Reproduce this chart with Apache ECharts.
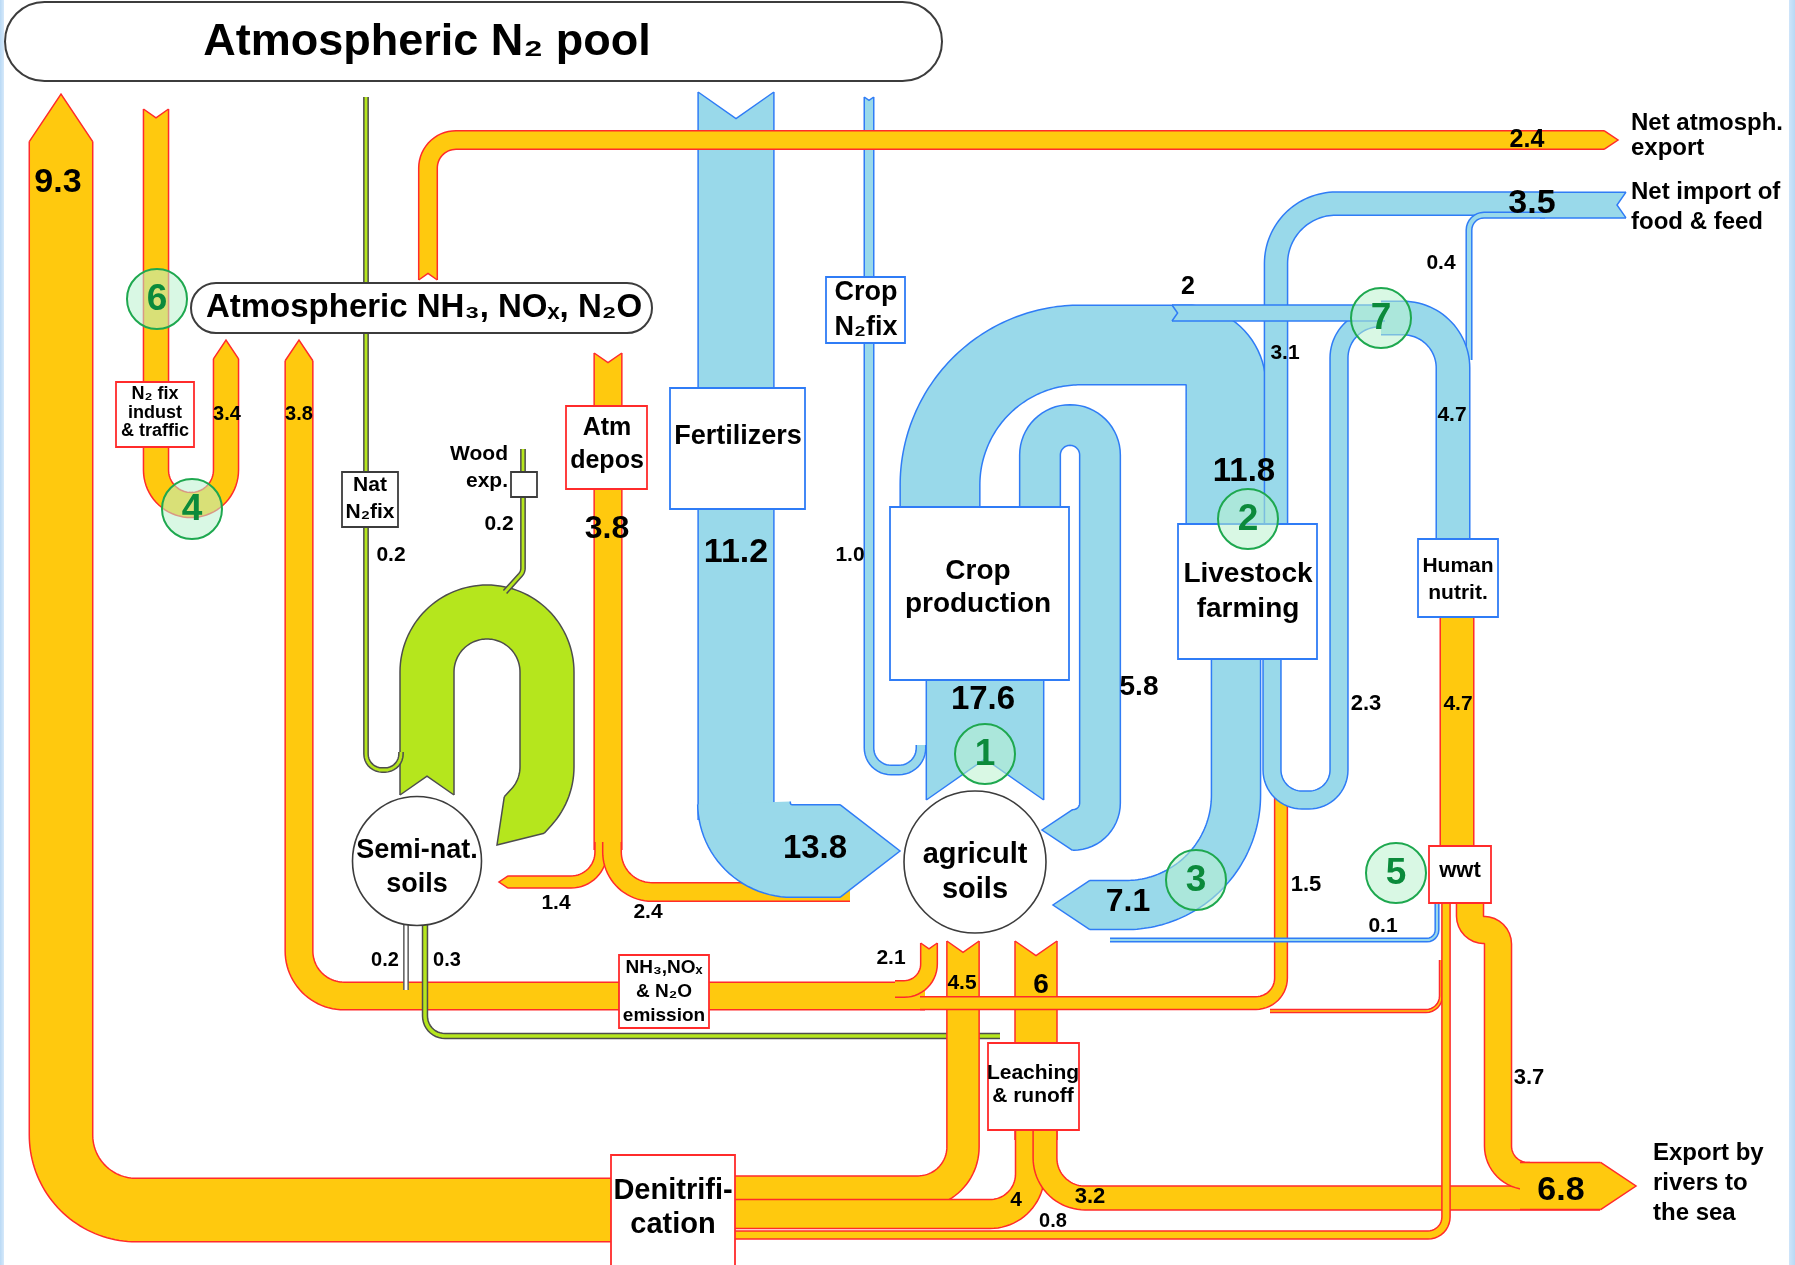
<!DOCTYPE html>
<html>
<head>
<meta charset="utf-8">
<title>Nitrogen flows</title>
<script src="https://cdn.jsdelivr.net/npm/echarts@6/dist/echarts.min.js"></script>
<style>
  html, body { margin: 0; padding: 0; }
  body {
    width: 1795px; height: 1265px; overflow: hidden;
    background: linear-gradient(to right, #b9d9f5 0px, #d6e9fa 4px, #ffffff 4px, #ffffff 1789px, #cfe5fa 1789px, #b9d9f5 1795px);
  }
  #chart { width: 1795px; height: 1265px; }
</style>
</head>
<body>
<div id="chart"></div>
<script>
const FONT = '"Liberation Sans", Arial, "DejaVu Sans", sans-serif';

// flow values
const flowNames = [
  "Denitrification to N2 pool", "Emission to atmosphere", "Semi-nat. soils to emission",
  "Semi-nat. soils to leaching", "Agric. soils to denitrification", "Agric. soils to leaching",
  "Leaching to denitrification", "Leaching to rivers", "Agric. soils to emission",
  "Livestock to emission", "wwt to emission", "wwt to rivers", "Export by rivers",
  "wwt to denitrification", "N2 fix indust & traffic", "Atm depos", "Depos on semi-nat. soils",
  "Depos on agric. soils", "Fertilizers", "Fertilizers + depos to agric. soils", "Crop N2 fix",
  "Agric. soils to crops", "Crops to livestock", "Crop residues to soils", "Manure to soils",
  "Livestock to human", "Import to livestock", "Net import of food & feed", "Import to human",
  "Food to human", "Crops to human", "wwt to agric. soils", "Net atmospheric export",
  "Human to wwt", "Semi-nat. internal cycling", "Nat N2 fix", "Wood export"
];
const flowValues = [
  9.3, 3.8, 0.2, 0.3, 4.5, 6, 4, 3.2, 2.1, 1.5, 0, 3.7, 6.8, 0.8, 3.4, 3.8, 1.4, 2.4,
  11.2, 13.8, 1.0, 17.6, 11.8, 5.8, 7.1, 2.3, 3.1, 3.5, 0.4, 4.7, 2, 0.1, 2.4, 4.7, null, 0.2, 0.2
];

const nodeNames = [
  "Atmospheric N\u2082 pool", "Atmospheric NH\u2083, NO\u2093, N\u2082O", "N\u2082 fix\nindust\n& traffic",
  "Nat\nN\u2082fix", "Wood\nexp.", "Atm\ndepos", "Fertilizers", "Crop\nN\u2082fix", "Crop\nproduction",
  "Livestock\nfarming", "Human\nnutrit.", "wwt", "Semi-nat.\nsoils", "agricult\nsoils",
  "NH\u2083,NO\u2093\n& N\u2082O\nemission", "Leaching\n& runoff", "Denitrifi-\ncation"
];
const sinkNames = ["Net atmosph.\nexport", "Net import of\nfood & feed", "Export by\nrivers to\nthe sea"];
const markerNumbers = ["1", "2", "3", "4", "5", "6", "7"];

// ---- layout (diagram coordinates = pixels) ----
const flowLayout = [
  { k: 'o', pts: [[735, 1210], [61, 1210], [61, 94]], r: 75, arrow: true, lab: [58, 183, 34] },
  { k: 'o', pts: [[925, 996], [299, 996], [299, 340]], r: 45, arrow: true, lab: [299, 414, 20] },
  { k: 'w', pts: [[406, 924], [406, 990]], lab: [385, 960, 20] },
  { k: 'g', pts: [[425, 924], [425, 1036], [1000, 1036]], r: 20, lab: [447, 960, 20] },
  { k: 'o', pts: [[963, 941], [963, 1192], [720, 1192]], r: 45, notch: true, lab: [962, 983, 21] },
  { k: 'o', pts: [[1036, 941], [1036, 1140]], notch: true, lab: [1041, 985, 28], dp: 0 },
  { k: 'o', pts: [[1030, 1130], [1030, 1214], [720, 1214]], r: 40, lab: [1016, 1200, 21], dp: 0 },
  { k: 'o', pts: [[1045, 1130], [1045, 1198], [1600, 1198]], r: 40, lab: [1090, 1197, 22] },
  { k: 'o', pts: [[929, 943], [929, 989], [895, 989]], r: 25, notch: true, lab: [891, 958, 21] },
  { k: 'o', pts: [[1281, 790], [1281, 1003], [920, 1003]], r: 25, lab: [1306, 885, 22] },
  { k: 'o', pts: [[1441, 960], [1441, 1011], [1270, 1011]], r: 15 },
  { k: 'o', pts: [[1470, 903], [1470, 930], [1498, 930], [1498, 1176], [1530, 1176]], r: [14, 14, 30], lab: [1529, 1078, 22] },
  { k: 'o', pts: [[1520, 1186], [1636, 1186]], arrow: true, lab: [1561, 1191, 34] },
  { k: 'o', pts: [[1446, 903], [1446, 1235], [720, 1235]], r: 18, lab: [1053, 1221, 20] },
  { k: 'o', pts: [[156, 109], [156, 505], [226, 505], [226, 340]], r: 35, notch: true, arrow: true, lab: [227, 414, 20] },
  { k: 'o', pts: [[608, 353], [608, 850]], notch: true, lab: [607, 529, 32] },
  { k: 'o', pts: [[601, 842], [601, 882], [499, 882]], r: 30, arrow: true, lab: [556, 903, 21] },
  { k: 'o', pts: [[612, 842], [612, 892], [850, 892]], r: 40, lab: [648, 912, 21] },
  { k: 'b', pts: [[736, 92], [736, 820]], notch: true, lab: [736, 553, 34] },
  { k: 'b', pts: [[744, 803], [744, 851], [900, 851]], r: 48, arrow: true, lab: [815, 849, 33] },
  { k: 'b', pts: [[869, 97], [869, 770], [921, 770], [921, 745]], r: 22, notch: true, lab: [850, 555, 21] },
  { k: 'b', pts: [[985, 800], [985, 680]], notch: true, lab: [983, 700, 33] },
  { k: 'b', pts: [[940, 507], [940, 345], [1226, 345], [1226, 523]], r: [140, 40], lab: [1244, 472, 33] },
  { k: 'b', pts: [[1040, 507], [1040, 425], [1100, 425], [1100, 830], [1042, 830]], r: [30, 30, 27], arrow: true, lab: [1139, 687, 28] },
  { k: 'b', pts: [[1236, 658], [1236, 905], [1053, 905]], r: 110, arrow: true, lab: [1128, 902, 32] },
  { k: 'b', pts: [[1272, 658], [1272, 800], [1339, 800], [1339, 318], [1385, 318]], r: [30, 30, 40], lab: [1366, 704, 22] },
  { k: 'b', pts: [[1545, 203.6], [1276, 203.6], [1276, 523]], r: 60, lab: [1285, 353, 21] },
  { k: 'b', pts: [[1626, 205], [1540, 205]], notch: true, lab: [1532, 204, 34] },
  { k: 'b', pts: [[1545, 215.1], [1469, 215.1], [1469, 360]], r: 15, lab: [1441, 263, 21] },
  { k: 'b', pts: [[1381, 318], [1453, 318], [1453, 538]], r: 50, lab: [1452, 415, 21] },
  { k: 'b', pts: [[1172, 313], [1385, 313]], notch: true, lab: [1188, 287, 25], dp: 0 },
  { k: 'b', pts: [[1437, 903], [1437, 940], [1110, 940]], r: 10, lab: [1383, 926, 21] },
  { k: 'o', pts: [[428, 280], [428, 140], [1618, 140]], r: 28, notch: true, arrow: true, lab: [1527, 140, 25] },
  { k: 'o', pts: [[1457, 617], [1457, 846]], lab: [1458, 704, 21] },
  { k: 'g', w: 54, pts: [[427, 795], [427, 612], [547, 612], [547, 790], [497, 845]], r: 60, notch: true, arrow: true },
  { k: 'g', pts: [[366, 97], [366, 770], [401, 770], [401, 752]], r: 16, lab: [391, 555, 21] },
  { k: 'g', pts: [[505, 592], [523, 572], [523, 449]], r: 10, lab: [499, 524, 21] }
];

const RED = '#ff2b2b', BLUE = '#2f7cf6', DARK = '#3c3c3c';
const nodeLayout = [
  { shape: 'pill', x: 5, y: 2, w: 937, h: 79, stroke: DARK, text: [427, 43], size: 45 },
  { shape: 'pill', x: 191, y: 283, w: 461, h: 50, stroke: DARK, text: [424, 308], size: 33 },
  { shape: 'rect', x: 116, y: 382, w: 78, h: 65, stroke: RED, text: [155, 413], size: 18, lh: 18.5 },
  { shape: 'rect', x: 342, y: 472, w: 56, h: 55, stroke: DARK, text: [370, 499], size: 21, lh: 27 },
  { shape: 'rect', x: 511, y: 472, w: 26, h: 25, stroke: DARK, text: [508, 468], size: 21, lh: 27, align: 'right' },
  { shape: 'rect', x: 566, y: 406, w: 81, h: 83, stroke: RED, text: [607, 445], size: 25, lh: 33 },
  { shape: 'rect', x: 670, y: 388, w: 135, h: 121, stroke: BLUE, text: [738, 437], size: 27 },
  { shape: 'rect', x: 826, y: 277, w: 79, h: 66, stroke: BLUE, text: [866, 310], size: 27, lh: 35 },
  { shape: 'rect', x: 890, y: 507, w: 179, h: 173, stroke: BLUE, text: [978, 588], size: 28, lh: 33 },
  { shape: 'rect', x: 1178, y: 524, w: 139, h: 135, stroke: BLUE, text: [1248, 592], size: 28, lh: 35 },
  { shape: 'rect', x: 1418, y: 539, w: 80, h: 78, stroke: BLUE, text: [1458, 580], size: 21, lh: 27 },
  { shape: 'rect', x: 1429, y: 846, w: 62, h: 57, stroke: RED, text: [1460, 871], size: 22 },
  { shape: 'circle', cx: 417, cy: 861, r: 64.5, stroke: DARK, text: [417, 868], size: 27, lh: 34 },
  { shape: 'circle', cx: 975, cy: 862, r: 71, stroke: DARK, text: [975, 872], size: 29, lh: 35 },
  { shape: 'rect', x: 619, y: 955, w: 90, h: 73, stroke: RED, text: [664, 992], size: 19, lh: 24 },
  { shape: 'rect', x: 988, y: 1043, w: 91, h: 87, stroke: RED, text: [1033, 1085], size: 21, lh: 23 },
  { shape: 'rect', x: 611, y: 1155, w: 124, h: 115, stroke: RED, text: [673, 1208], size: 29, lh: 34 }
];
const sinkLayout = [[1631, 136, 25], [1631, 207, 30], [1653, 1183, 30]];
const markerLayout = [[985, 754], [1248, 519], [1196, 880], [192, 509], [1396, 873], [157, 299], [1381, 318]];

const PAL = {
  o: { fill: '#ffc90e', stroke: '#ff2b2b' },
  b: { fill: '#99d9ea', stroke: '#2f7cf6' },
  g: { fill: '#b5e61d', stroke: '#4d4d4d' },
  w: { fill: '#ffffff', stroke: '#5a5a5a' }
};
const widthOf = v => 3 + 6.5 * v;

// ---- geometry helpers ----
const sub = (a, b) => [a[0] - b[0], a[1] - b[1]];
function unit(v) {
  const l = Math.hypot(v[0], v[1]) || 1;
  return [v[0] / l, v[1] / l];
}

function roundRoute(pts, radius) {
  const n = pts.length;
  const out = [pts[0]];
  for (let i = 1; i < n - 1; i++) {
    const A = pts[i - 1], P = pts[i], B = pts[i + 1];
    const v1 = sub(P, A), v2 = sub(B, P);
    const l1 = Math.hypot(v1[0], v1[1]), l2 = Math.hypot(v2[0], v2[1]);
    const d1 = [v1[0] / l1, v1[1] / l1], d2 = [v2[0] / l2, v2[1] / l2];
    const cross = d1[0] * d2[1] - d1[1] * d2[0];
    const dot = d1[0] * d2[0] + d1[1] * d2[1];
    const theta = Math.atan2(Math.abs(cross), dot);
    let r = Array.isArray(radius) ? radius[i - 1] : radius;
    if (theta < 1e-3 || !r) { out.push(P); continue; }
    const tanH = Math.tan(theta / 2);
    const av1 = i === 1 ? l1 : l1 / 2;
    const av2 = i === n - 2 ? l2 : l2 / 2;
    r = Math.min(r, av1 / tanH, av2 / tanH);
    const t = r * tanH;
    const S = [P[0] - d1[0] * t, P[1] - d1[1] * t];
    const sg = cross > 0 ? 1 : -1;
    const nv = sg > 0 ? [-d1[1], d1[0]] : [d1[1], -d1[0]];
    const C = [S[0] + nv[0] * r, S[1] + nv[1] * r];
    const a0 = Math.atan2(S[1] - C[1], S[0] - C[0]);
    const steps = Math.max(6, Math.ceil(theta * r / 3));
    for (let k = 0; k <= steps; k++) {
      const a = a0 + sg * theta * k / steps;
      out.push([C[0] + r * Math.cos(a), C[1] + r * Math.sin(a)]);
    }
  }
  out.push(pts[n - 1]);
  const clean = [out[0]];
  for (let j = 1; j < out.length; j++) {
    const q = clean[clean.length - 1];
    if (Math.hypot(out[j][0] - q[0], out[j][1] - q[1]) > 0.05) clean.push(out[j]);
  }
  return clean;
}

function flowShape(L, w) {
  const pts = L.pts.map(p => [p[0], p[1]]);
  const n = pts.length;
  let tip = null;
  if (L.arrow) {
    const d = unit(sub(pts[n - 1], pts[n - 2]));
    const hl = Math.max(8, Math.min(0.75 * w, 60));
    tip = pts[n - 1];
    pts[n - 1] = [tip[0] - d[0] * hl, tip[1] - d[1] * hl];
  }
  const line = roundRoute(pts, L.r || 0);
  const h = w / 2;
  const left = [], right = [];
  for (let j = 0; j < line.length; j++) {
    const p = line[Math.max(j - 1, 0)], q = line[Math.min(j + 1, line.length - 1)];
    const t = unit(sub(q, p));
    left.push([line[j][0] - t[1] * h, line[j][1] + t[0] * h]);
    right.push([line[j][0] + t[1] * h, line[j][1] - t[0] * h]);
  }
  const fill = left.slice();
  const edges = [left, right];
  if (tip) {
    fill.push(tip);
    edges.push([left[left.length - 1], tip, right[right.length - 1]]);
  }
  fill.push(...right.slice().reverse());
  if (L.notch) {
    const d0 = unit(sub(line[1], line[0]));
    const dep = Math.min(0.35 * w, 42);
    const apex = [line[0][0] + d0[0] * dep, line[0][1] + d0[1] * dep];
    fill.push(apex);
    edges.push([right[0], apex, left[0]]);
  }
  return { fill, edges };
}

const geoms = flowLayout.map((L, i) => flowShape(L, flowValues[i] == null ? L.w : widthOf(flowValues[i])));

function fmt(v, dp) {
  return dp === 0 ? String(v) : v.toFixed(1);
}

// ---- renderers ----
function renderFlow(params, api) {
  const i = api.value(0);
  const g = geoms[i];
  const pal = PAL[flowLayout[i].k];
  const map = pts => pts.map(p => api.coord(p));
  const children = [{ type: 'polygon', shape: { points: map(g.fill) }, style: { fill: pal.fill } }];
  g.edges.forEach(e => children.push({
    type: 'polyline', shape: { points: map(e) },
    style: { stroke: pal.stroke, lineWidth: 1.5, fill: null }
  }));
  return { type: 'group', children };
}

function textEl(api, pos, text, size, opts) {
  const [x, y] = api.coord(pos);
  return {
    type: 'text', x, y,
    style: Object.assign({
      text, fill: '#000', fontSize: size, fontWeight: 'bold', fontFamily: FONT,
      align: 'center', verticalAlign: 'middle', lineHeight: size * 1.2
    }, opts || {})
  };
}

function renderNode(params, api) {
  const i = api.value(0);
  const L = nodeLayout[i];
  const c = [];
  if (L.shape === 'circle') {
    const [cx, cy] = api.coord([L.cx, L.cy]);
    c.push({ type: 'circle', shape: { cx, cy, r: L.r }, style: { fill: '#fff', stroke: L.stroke, lineWidth: 1.6 } });
  } else {
    const [x, y] = api.coord([L.x, L.y]);
    c.push({
      type: 'rect',
      shape: { x, y, width: L.w, height: L.h, r: L.shape === 'pill' ? L.h / 2 : 0 },
      style: { fill: '#fff', stroke: L.stroke, lineWidth: L.shape === 'pill' ? 2 : 1.8 }
    });
  }
  c.push(textEl(api, L.text, nodeNames[i], L.size, { lineHeight: L.lh || L.size * 1.2, align: L.align || 'center' }));
  return { type: 'group', children: c };
}

function renderSink(params, api) {
  const i = api.value(0);
  const s = sinkLayout[i];
  return textEl(api, [s[0], s[1]], sinkNames[i], 24, { align: 'left', lineHeight: s[2] });
}

function renderMarker(params, api) {
  const i = api.value(0);
  const [cx, cy] = api.coord(markerLayout[i]);
  return {
    type: 'group',
    children: [
      { type: 'circle', shape: { cx, cy, r: 30 }, style: { fill: 'rgba(185,242,205,0.55)', stroke: '#1ea84f', lineWidth: 2 } },
      { type: 'text', x: cx, y: cy + 1, style: { text: markerNumbers[i], fill: '#0b8a3b', fontSize: 37, fontWeight: 'bold', fontFamily: FONT, align: 'center', verticalAlign: 'middle' } }
    ]
  };
}

function renderLabel(params, api) {
  const i = api.value(0);
  const L = flowLayout[i];
  return textEl(api, [L.lab[0], L.lab[1]], fmt(flowValues[i], L.dp), L.lab[2]);
}

const labelled = flowLayout.map((L, i) => i).filter(i => flowLayout[i].lab && flowValues[i] != null);

const chart = echarts.init(document.getElementById('chart'));
chart.setOption({
  animation: false,
  grid: { left: 0, right: 0, top: 0, bottom: 0 },
  xAxis: { type: 'value', min: 0, max: 1795, show: false },
  yAxis: { type: 'value', min: 0, max: 1265, inverse: true, show: false },
  series: [
    { type: 'custom', name: 'flows', coordinateSystem: 'cartesian2d', silent: true, z: 1,
      data: flowValues.map((v, i) => [i, v == null ? 0 : v]), renderItem: renderFlow },
    { type: 'custom', name: 'nodes', coordinateSystem: 'cartesian2d', silent: true, z: 2,
      data: nodeNames.map((n, i) => [i, 0]), renderItem: renderNode },
    { type: 'custom', name: 'sinks', coordinateSystem: 'cartesian2d', silent: true, z: 2,
      data: sinkNames.map((n, i) => [i, 0]), renderItem: renderSink },
    { type: 'custom', name: 'markers', coordinateSystem: 'cartesian2d', silent: true, z: 3,
      data: markerNumbers.map((n, i) => [i, 0]), renderItem: renderMarker },
    { type: 'custom', name: 'values', coordinateSystem: 'cartesian2d', silent: true, z: 4,
      data: labelled.map(i => [i, flowValues[i]]), renderItem: renderLabel }
  ]
});
</script>
</body>
</html>
